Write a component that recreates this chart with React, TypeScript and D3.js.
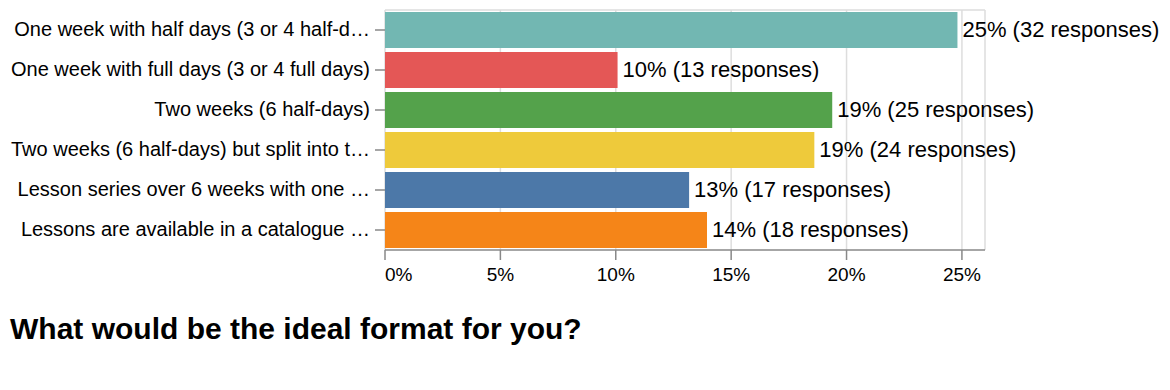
import React from 'react';
import * as d3 from 'd3';

// survey answers (labels already cut off like in the original)
const categories = [
    'One week with half days (3 or 4 half-d…',
    'One week with full days (3 or 4 full days)',
    'Two weeks (6 half-days)',
    'Two weeks (6 half-days) but split into t…',
    'Lesson series over 6 weeks with one …',
    'Lessons are available in a catalogue …',
];
const responses = [32, 13, 25, 24, 17, 18];
const colors = ['#72b7b2', '#e45756', '#54a24b', '#eeca3b', '#4c78a8', '#f58518'];
const xTicks = [0, 0.05, 0.1, 0.15, 0.2, 0.25];
const title = 'What would be the ideal format for you?';

const total = d3.sum(responses);
const shares = responses.map(r => r / total);

const FONT = '"Liberation Sans", Arial, sans-serif';

const App = () => {
    const left = 385, right = 985, top = 10, bottom = 250;

    const x = d3.scaleLinear()
        .domain([0, 0.26])
        .range([left, right]);

    const y = d3.scaleBand<string>()
        .domain(categories)
        .range([top, bottom])
        .paddingInner(0.1)
        .paddingOuter(0.05);

    const fmt = d3.format('.0%');

    return (
        <svg width={1170} height={390} style={{ position: 'absolute', left: 0, top: 0 }} fontFamily={FONT}>
            {/* grid */}
            {xTicks.map((t, i) => (
                <line key={'g' + i} x1={x(t)} x2={x(t)} y1={top} y2={bottom} stroke="#ddd" strokeWidth={1.5} />
            ))}
            <line x1={left} x2={right} y1={top} y2={top} stroke="#ddd" strokeWidth={1.5} />
            <line x1={right} x2={right} y1={top} y2={bottom} stroke="#ddd" strokeWidth={1.5} />

            {/* bars */}
            {categories.map((c, i) => (
                <rect key={'b' + i} x={x(0)} y={y(c)} width={x(shares[i]) - x(0)} height={y.bandwidth()} fill={colors[i]} />
            ))}

            {/* value labels */}
            {categories.map((c, i) => (
                <text key={'v' + i} x={x(shares[i]) + 5} y={(y(c) as number) + y.bandwidth() / 2 - 1}
                    dominantBaseline="central" fontSize={22} fill="#000">
                    {`${Math.round(shares[i] * 100)}% (${responses[i]} responses)`}
                </text>
            ))}

            {/* y axis */}
            {categories.map((c, i) => {
                const cy = (y(c) as number) + y.bandwidth() / 2;
                return (
                    <g key={'y' + i}>
                        <line x1={left - 10} x2={left} y1={cy} y2={cy} stroke="#888" strokeWidth={1.5} />
                        <text x={left - 15} y={cy - 1} textAnchor="end" dominantBaseline="central" fontSize={20} fill="#000">{c}</text>
                    </g>
                );
            })}

            {/* x axis */}
            <line x1={left} x2={right} y1={bottom} y2={bottom} stroke="#888" strokeWidth={1.5} />
            {xTicks.map((t, i) => (
                <g key={'x' + i}>
                    <line x1={x(t)} x2={x(t)} y1={bottom} y2={bottom + 10} stroke="#888" strokeWidth={1.5} />
                    <text x={x(t)} y={281} textAnchor={i === 0 ? 'start' : 'middle'} fontSize={19} fill="#000">
                        {fmt(t)}
                    </text>
                </g>
            ))}

            <text x={10} y={339} fontSize={30} fontWeight="bold" fill="#000">{title}</text>
        </svg>
    );
};

export default App;
